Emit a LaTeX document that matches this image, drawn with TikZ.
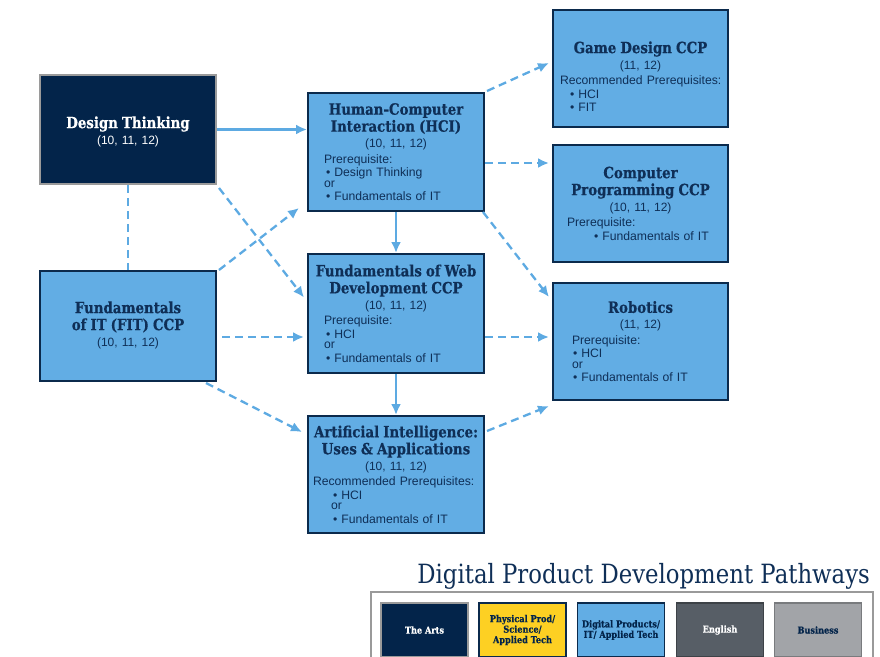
\documentclass[tikz,border=0pt]{standalone}
\usepackage{fontspec}
\setmainfont{Liberation Sans}
\newfontfamily\slabfont[FakeStretch=0.86, BoldFeatures={FakeBold=0.5}]{DejaVu Serif}
\usetikzlibrary{arrows.meta}

\definecolor{navy}{HTML}{03244A}
\definecolor{skyfill}{HTML}{62ADE4}
\definecolor{boxline}{HTML}{0B2A4C}
\definecolor{inktext}{HTML}{0F2F57}
\definecolor{arrowblue}{HTML}{5DAAE2}
\definecolor{frameg}{HTML}{9A9A9A}
\definecolor{sunny}{HTML}{FDD023}
\definecolor{slate}{HTML}{575E66}
\definecolor{silver}{HTML}{A2A4A8}

\newcommand{\ttlf}{\slabfont\bfseries\fontsize{15.5}{17}\selectfont}
\newcommand{\yearf}{\fontsize{12}{16}\selectfont}
\newcommand{\hdr}[2]{{\centering\ttlf #1\par}{\centering\yearf #2\par}\vspace{2pt}}

\begin{document}
\begin{tikzpicture}[x=1pt, y=1pt]
  \useasboundingbox (0,0) rectangle (880,-656);
  % course boxes
  \begin{scope}[every node/.style={draw=boxline, fill=skyfill, line width=2pt,
      minimum width=176pt, minimum height=118pt, text width=170pt, inner sep=3pt,
      align=left, text=inktext, font={\fontsize{12.2}{13.5}\selectfont\parindent=0pt}}]
    \node[fill=navy, draw=frameg, text=white, minimum height=109pt] (dt) at (128,-129.5)
      {\hdr{Design Thinking}{(10, 11, 12)}\par\vspace{-6pt}};
    \node[minimum height=110pt] (fit) at (128,-326)
      {\hdr{Fundamentals\\of IT (FIT) CCP}{(10, 11, 12)}};
    \node (hci) at (396,-152)
      {\hdr{Human-Computer\\Interaction (HCI)}{(10, 11, 12)}
       \hspace*{13pt}Prerequisite:\\
       \hspace*{15pt}• Design Thinking\\[-3pt]
       \hspace*{13pt}or\\
       \hspace*{15pt}• Fundamentals of IT};
    \node[minimum height=119pt] (web) at (396,-313.5)
      {\hdr{Fundamentals of Web\\Development CCP}{(10, 11, 12)}
       \hspace*{13pt}Prerequisite:\\
       \hspace*{15pt}• HCI\\[-3pt]
       \hspace*{13pt}or\\
       \hspace*{15pt}• Fundamentals of IT};
    \node[minimum height=117pt] (ai) at (396,-474.5)
      {\hdr{Artificial Intelligence:\\Uses \& Applications}{(10, 11, 12)}
       \hspace*{2pt}Recommended Prerequisites:\\
       \hspace*{22pt}• HCI\\[-3pt]
       \hspace*{20pt}or\\
       \hspace*{22pt}• Fundamentals of IT};
    \node[minimum width=175pt, text width=169pt, minimum height=117pt] (game) at (640.5,-68.5)
      {\hdr{Game Design CCP}{(11, 12)}
       \hspace*{4pt}Recommended Prerequisites:\\
       \hspace*{14pt}• HCI\\
       \hspace*{14pt}• FIT\par\vspace{-16pt}};
    \node[minimum width=175pt, text width=169pt, minimum height=117pt] (prog) at (640.5,-203.5)
      {\hdr{Computer\\Programming CCP}{(10, 11, 12)}
       \hspace*{11pt}Prerequisite:\\
       \hspace*{38pt}• Fundamentals of IT};
    \node[minimum width=175pt, text width=169pt, minimum height=117pt] (robo) at (640.5,-341.5)
      {\hdr{Robotics}{(11, 12)}
       \hspace*{16pt}Prerequisite:\\
       \hspace*{17pt}• HCI\\[-3pt]
       \hspace*{16pt}or\\
       \hspace*{17pt}• Fundamentals of IT};
  \end{scope}
  % connectors
  \begin{scope}[every edge/.style={draw=arrowblue, line width=2.3pt,
      -{Latex[length=11pt, width=10pt]}},
      pale/.style={dash pattern=on 8pt off 5pt}]
    \path (dt.east) edge (dt.east -| hci.west);
    \path ([shift={(2,-3)}]dt.south east) edge[pale] ([shift={(-3,16)}]web.west);
    \path (dt.south) edge[pale, -] (fit.north);
    \path ([shift={(2,0)}]fit.north east) edge[pale] ([shift={(-8,4)}]hci.south west);
    \path ([shift={(5,-11)}]fit.east) edge[pale] ([shift={(-3,-11)}]fit.east -| web.west);
    \path ([shift={(-11,-1)}]fit.south east) edge[pale] ([shift={(-5,-17)}]ai.north west);
    \path (hci.south) edge (web.north);
    \path (web.south) edge (ai.north);
    \path ([shift={(2,1)}]hci.north east) edge[pale] ([shift={(-3,5.5)}]game.west);
    \path ([shift={(0,-11)}]hci.east) edge[pale] ([shift={(-3,-11)}]hci.east -| prog.west);
    \path ([shift={(-2,0)}]hci.south east) edge[pale] ([shift={(-3,-15)}]robo.north west);
    \path ([shift={(0,-23.5)}]web.east) edge[pale] ([shift={(-3,-23.5)}]web.east -| robo.west);
    \path ([shift={(2,-16)}]ai.north east) edge[pale] ([shift={(-3,-5)}]robo.south west);
  \end{scope}
  % pathway legend
  \node[anchor=base east, inner sep=0pt, text=inktext,
    font=\slabfont\fontsize{26.5}{30}\selectfont] (pathttl) at (870,-583)
    {Digital Product Development Pathways};
  \draw[frameg, line width=1.3pt, fill=white] (371,-592) rectangle (873,-670);
  \begin{scope}[every node/.style={line width=1.5pt, minimum width=87pt,
      minimum height=54pt, inner sep=1pt, align=center,
      font=\slabfont\bfseries\fontsize{9.5}{10.5}\selectfont}]
    \node[fill=navy, draw=frameg, text=white] (arts) at (424.5,-630) {The Arts};
    \node[fill=sunny, draw=boxline, text=navy] (phys) at (522.5,-630)
      {Physical Prod/\\Science/\\Applied Tech};
    \node[fill=skyfill, draw=boxline, text=navy] (digi) at (621,-630)
      {Digital Products/\\IT/ Applied Tech};
    \node[fill=slate, draw=slate!70!black, text=white] (engl) at (720,-630) {English};
    \node[fill=silver, draw=silver!75!black, text=navy] (bus) at (818,-630) {Business};
  \end{scope}
\end{tikzpicture}
\end{document}
